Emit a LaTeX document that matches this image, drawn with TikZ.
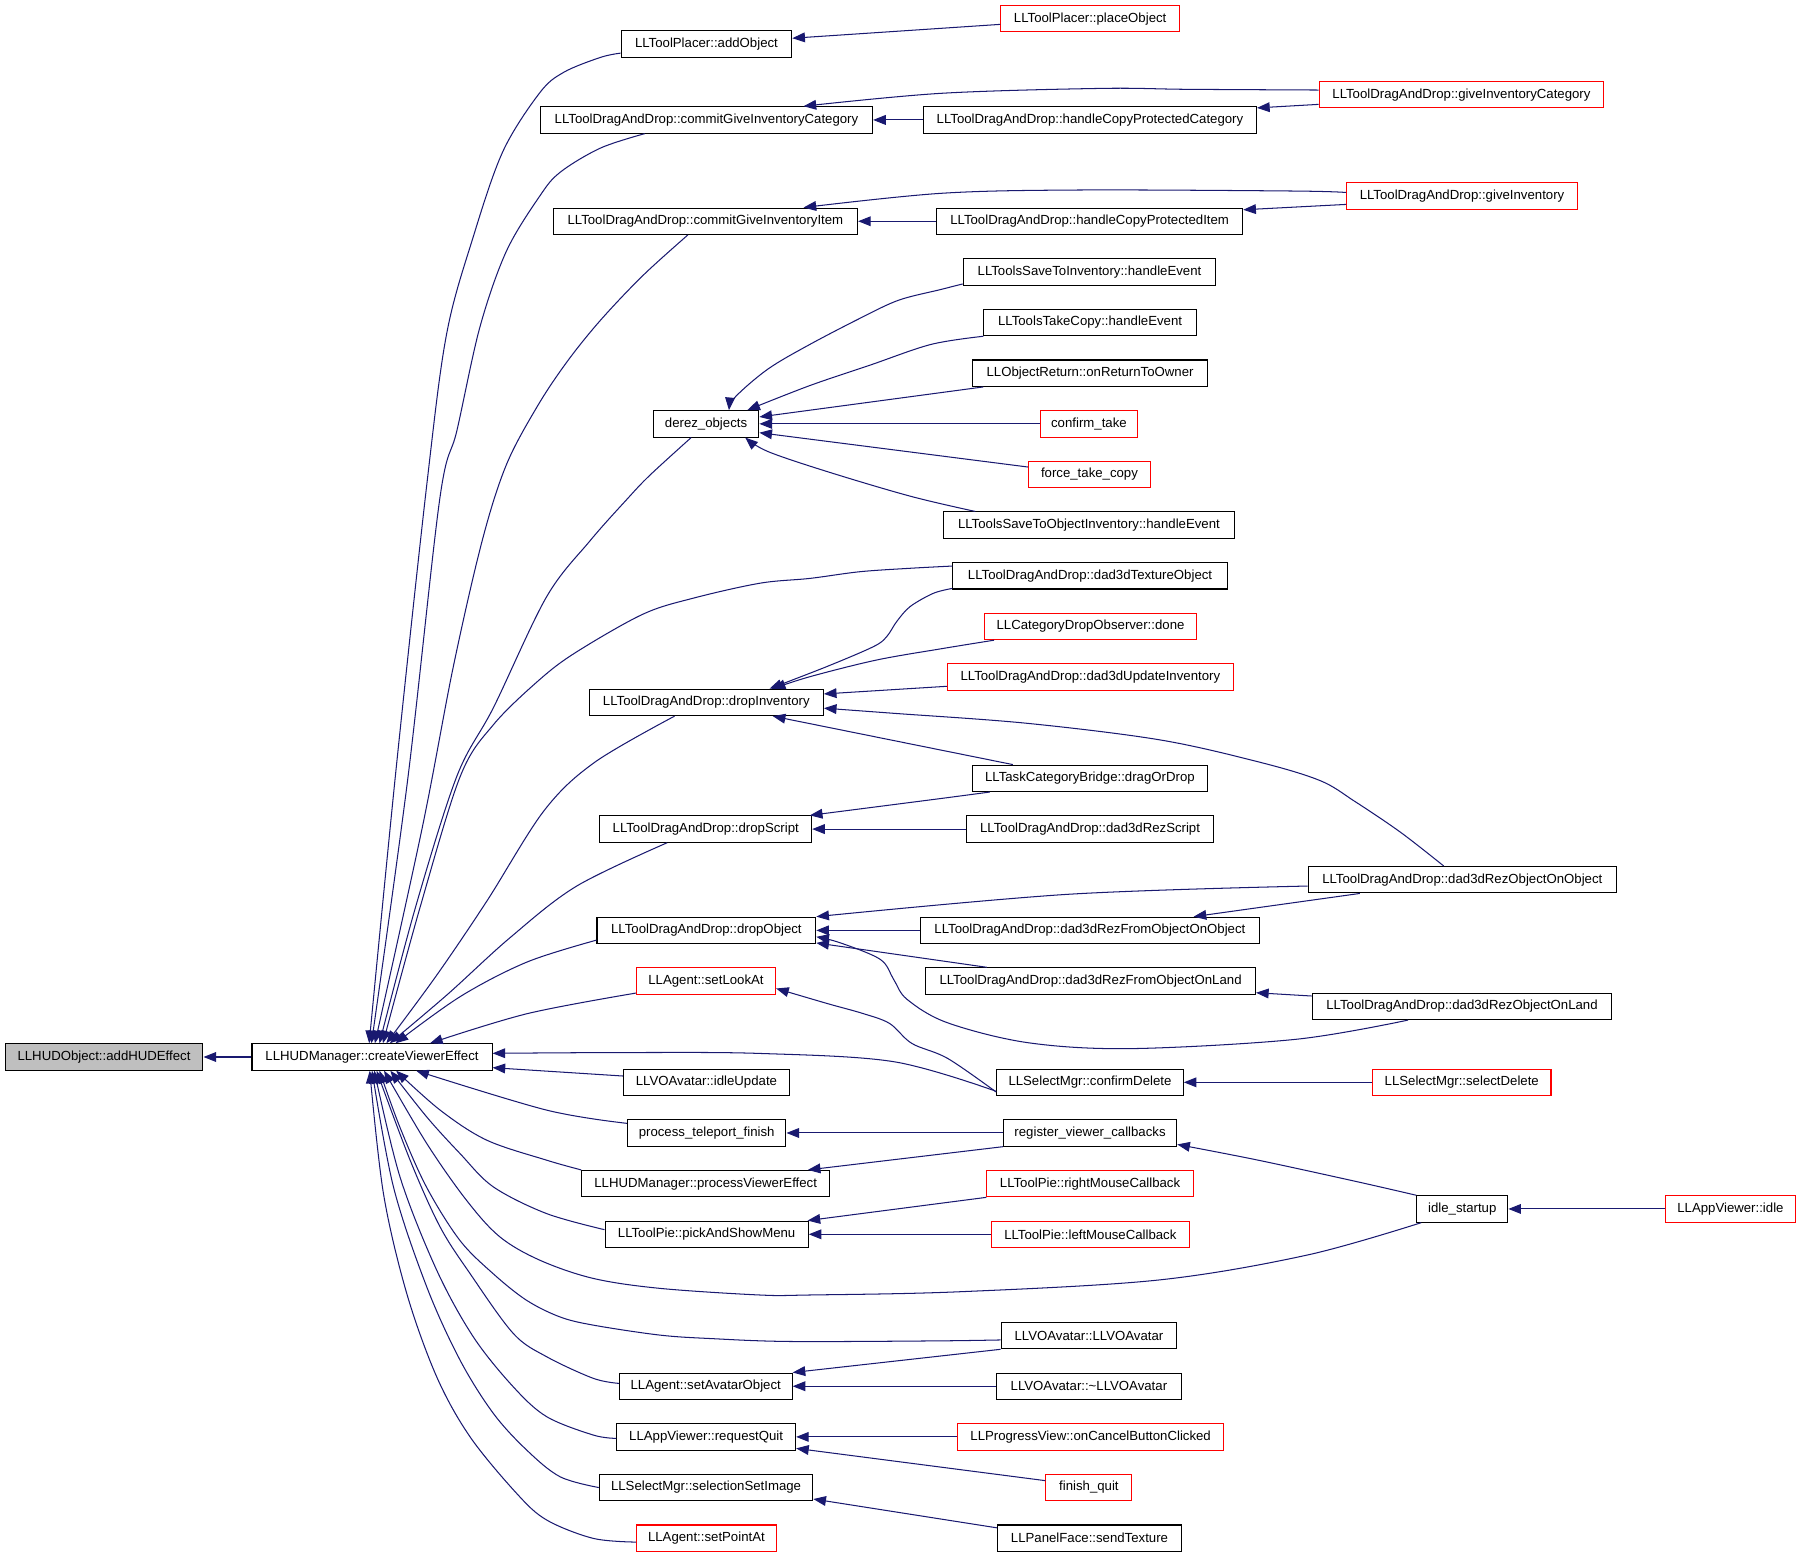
\documentclass[tikz,border=0pt]{standalone}
\usepackage{fontspec}
\setmainfont{Liberation Sans}
\usetikzlibrary{arrows.meta}
\definecolor{edgeblue}{RGB}{25,25,112}
\definecolor{hudgray}{RGB}{191,191,191}
\begin{document}
\begin{tikzpicture}[x=1pt,y=-1pt,
  box/.style={draw=black, line width=0.9pt, inner sep=0pt, minimum height=23pt, font=\fontsize{11.5}{13}\selectfont, text=black},
  redbox/.style={box, draw=red},
  edge/.style={draw=edgeblue, line width=0.9pt, -{Triangle[length=11pt,width=8.5pt]}},
  sm/.style={smooth, tension=0.55}]
\useasboundingbox (0,0) rectangle (1567.9,1356.3);

% ---------------- nodes ----------------
\node[box, fill=hudgray, minimum width=172.4pt] (addHUD) at (90.6,920.7) {LLHUDObject::addHUDEffect};
\node[box, minimum width=209.1pt] (cve) at (324.05,920.7) {LLHUDManager::createViewerEffect};

\node[box, minimum width=148.7pt] (addObject) at (615.35,38.3) {LLToolPlacer::addObject};
\node[redbox, minimum width=155.8pt] (placeObject) at (949.6,16.24) {LLToolPlacer::placeObject};
\node[box, minimum width=289.4pt] (commitCat) at (615.4,104.48) {LLToolDragAndDrop::commitGiveInventoryCategory};
\node[box, minimum width=290.1pt] (handleCat) at (949.45,104.48) {LLToolDragAndDrop::handleCopyProtectedCategory};
\node[redbox, minimum width=248pt] (giveCat) at (1273,82.42) {LLToolDragAndDrop::giveInventoryCategory};
\node[box, minimum width=265.1pt] (commitItem) at (614.45,192.72) {LLToolDragAndDrop::commitGiveInventoryItem};
\node[box, minimum width=266.7pt] (handleItem) at (949.15,192.72) {LLToolDragAndDrop::handleCopyProtectedItem};
\node[redbox, minimum width=201pt] (giveInv) at (1273.5,170.66) {LLToolDragAndDrop::giveInventory};
\node[box, minimum width=220pt] (saveInv) at (949,236.84) {LLToolsSaveToInventory::handleEvent};
\node[box, minimum width=185pt] (takeCopy) at (949.5,280.96) {LLToolsTakeCopy::handleEvent};
\node[box, minimum width=205pt] (returnOwner) at (949.5,325.08) {LLObjectReturn::onReturnToOwner};
\node[box, minimum width=92pt] (derez) at (615,369.2) {derez\_objects};
\node[redbox, minimum width=85pt] (confirmTake) at (948.5,369.2) {confirm\_take};
\node[redbox, minimum width=106pt] (forceTake) at (949,413.32) {force\_take\_copy};
\node[box, minimum width=253pt] (saveObjInv) at (948.5,457.44) {LLToolsSaveToObjectInventory::handleEvent};
\node[box, minimum width=239pt] (texObj) at (949.5,501.56) {LLToolDragAndDrop::dad3dTextureObject};
\node[redbox, minimum width=185pt] (catDrop) at (949.9,545.68) {LLCategoryDropObserver::done};
\node[redbox, minimum width=249.1pt] (updInv) at (949.75,589.8) {LLToolDragAndDrop::dad3dUpdateInventory};
\node[box, minimum width=203.9pt] (dropInv) at (615.25,611.86) {LLToolDragAndDrop::dropInventory};
\node[box, minimum width=205.3pt] (dragOrDrop) at (949.35,677.94) {LLTaskCategoryBridge::dragOrDrop};
\node[box, minimum width=184.5pt] (dropScript) at (614.75,722.16) {LLToolDragAndDrop::dropScript};
\node[box, minimum width=215pt] (rezScript) at (949.5,722.16) {LLToolDragAndDrop::dad3dRezScript};
\node[box, minimum width=268.5pt] (rezObjOnObj) at (1273.75,766.28) {LLToolDragAndDrop::dad3dRezObjectOnObject};
\node[box, minimum width=190.6pt] (dropObject) at (615.3,810.4) {LLToolDragAndDrop::dropObject};
\node[box, minimum width=294.7pt] (rezFromObjOnObj) at (949.35,810.4) {LLToolDragAndDrop::dad3dRezFromObjectOnObject};
\node[redbox, minimum width=121.3pt] (setLookAt) at (614.95,854.52) {LLAgent::setLookAt};
\node[box, minimum width=287.3pt] (rezFromObjOnLand) at (949.95,854.52) {LLToolDragAndDrop::dad3dRezFromObjectOnLand};
\node[box, minimum width=261pt] (rezObjOnLand) at (1273.5,876.58) {LLToolDragAndDrop::dad3dRezObjectOnLand};
\node[box, minimum width=144.7pt] (idleUpdate) at (615.35,942.76) {LLVOAvatar::idleUpdate};
\node[box, minimum width=162.6pt] (confirmDelete) at (949.4,942.76) {LLSelectMgr::confirmDelete};
\node[redbox, minimum width=155.5pt] (selectDelete) at (1273.25,942.76) {LLSelectMgr::selectDelete};
\node[box, minimum width=138.1pt] (teleport) at (615.55,986.88) {process\_teleport\_finish};
\node[box, minimum width=151pt] (regCallbacks) at (949.5,986.88) {register\_viewer\_callbacks};
\node[box, minimum width=216pt] (procVE) at (614.7,1031) {LLHUDManager::processViewerEffect};
\node[redbox, minimum width=179.8pt] (rightMouse) at (949.5,1031) {LLToolPie::rightMouseCallback};
\node[box, minimum width=79.4pt] (idleStartup) at (1273.7,1053.06) {idle\_startup};
\node[redbox, minimum width=112.6pt] (appIdle) at (1507.3,1053.06) {LLAppViewer::idle};
\node[box, minimum width=177pt] (pickMenu) at (615.5,1075.12) {LLToolPie::pickAndShowMenu};
\node[redbox, minimum width=172.5pt] (leftMouse) at (949.75,1075.12) {LLToolPie::leftMouseCallback};
\node[box, minimum width=153pt] (voAvatar) at (948.5,1163.36) {LLVOAvatar::LLVOAvatar};
\node[box, minimum width=150.5pt] (setAvatar) at (614.75,1207.48) {LLAgent::setAvatarObject};
\node[box, minimum width=161pt] (dtor) at (948.5,1207.48) {LLVOAvatar::\textasciitilde LLVOAvatar};
\node[box, minimum width=155.8pt] (reqQuit) at (615.1,1251.6) {LLAppViewer::requestQuit};
\node[redbox, minimum width=232pt] (cancelBtn) at (950,1251.6) {LLProgressView::onCancelButtonClicked};
\node[box, minimum width=186pt] (selImage) at (615,1295.72) {LLSelectMgr::selectionSetImage};
\node[redbox, minimum width=75pt] (finishQuit) at (948.5,1295.72) {finish\_quit};
\node[redbox, minimum width=121.4pt] (setPointAt) at (615.3,1339.84) {LLAgent::setPointAt};
\node[box, minimum width=160pt] (sendTexture) at (949,1339.84) {LLPanelFace::sendTexture};

% ---------------- edges ----------------
\draw[edge] (cve.west) -- (addHUD.east);

% top fan into createViewerEffect
\draw[edge] plot[sm] coordinates {([yshift=-8pt]addObject.west) (523,50) (491,63) (470,81) (438,132) (412,207) (389,291) (372,420) (345,670) ([xshift=102.5pt]cve.north west)};
\draw[edge] plot[sm] coordinates {([xshift=91.3pt]commitCat.south west) (523,129) (488,150) (470,171) (441,219) (418,285) (398,375) (383,435) (355,680) ([xshift=104.5pt]cve.north west)};
\draw[edge] plot[sm] coordinates {([xshift=117.7pt]commitItem.south west) (560,240) (523,279) (494,315) (468,354) (441,405) (420,471) (395,580) (368,720) ([xshift=107.5pt]cve.north west)};
\draw[edge] plot[sm] coordinates {([xshift=33.5pt]derez.south west) (566,414) (546,435) (514,471) (476,520) (430,616) (398,676) (362,790) ([xshift=111.5pt]cve.north west)};
\draw[edge] plot[sm] coordinates {([yshift=8.5pt]texObj.west) (792.7,495) (749,498) (705.6,503.8) (662,508) (604,521) (560,535) (502,568) (470,592) (430,631) (401,676) (366,790) ([xshift=114.5pt]cve.north west)};
\draw[edge] plot[sm] coordinates {([xshift=74.7pt]dropInv.south west) (518,664) (474,706) (424,785) (380,850) ([xshift=117.5pt]cve.north west)};
\draw[edge] plot[sm] coordinates {([xshift=59pt]dropScript.south west) (502,772) (444,817) (390,866) ([xshift=120.5pt]cve.north west)};
\draw[edge] plot[sm] coordinates {([yshift=-8.5pt]dropObject.west) (459,838) (401,868) ([xshift=125.5pt]cve.north west)};
\draw[edge] plot[sm] coordinates {([yshift=-10.5pt]setLookAt.west) (459,883) ([xshift=155.5pt]cve.north west)};

% right side into createViewerEffect
\draw[edge] plot[sm] coordinates {([yshift=-7.8pt]confirmDelete.west) (778.6,924.8) (662,917.6) (550,916.8) ([yshift=3.2pt]cve.east)};
\draw[edge] ([yshift=5.5pt]idleUpdate.west) -- ([yshift=-9.3pt]cve.east);

% bottom fan into createViewerEffect
\draw[edge] plot[sm] coordinates {([yshift=8.4pt]teleport.west) (475.9,966.9) ([xshift=143.5pt]cve.south west)};
\draw[edge] plot[sm] coordinates {(procVE.north west) (475.9,1010.5) (423.9,993.1) (383.3,966.9) ([xshift=126pt]cve.south west)};
\draw[edge] plot[sm] coordinates {([yshift=4pt]pickMenu.west) (475.9,1057) (429.7,1033.8) (400.7,1004.8) (371.7,972.9) ([xshift=121pt]cve.south west)};
\draw[edge] plot[sm] coordinates {([xshift=4.4pt]idleStartup.south west) (1138.7,1093.2) (1008.7,1115) (835.4,1125.2) (705.4,1128) (661.6,1128) (574.5,1122.2) (516.5,1113.5) (470,1097.6) (435.2,1077.2) (406.2,1045.3) (371.7,996) ([xshift=115.5pt]cve.south west)};
\draw[edge] plot[sm] coordinates {([yshift=-3.8pt]voAvatar.west) (813.7,1168) (688,1168.5) (620,1166) (574.5,1162.9) (516.5,1154.2) (487.5,1147) (458.5,1132.5) (429.4,1109.3) (400.4,1080.2) (371.4,1033.8) (348.2,981.5) ([xshift=111.5pt]cve.south west)};
\draw[edge] plot[sm] coordinates {([yshift=2.5pt]setAvatar.west) (516.8,1200.6) (476.2,1181.8) (447.1,1161.5) (409.4,1109.3) (383.3,1068.6) (357.2,1010.5) ([xshift=109pt]cve.south west)};
\draw[edge] plot[sm] coordinates {([yshift=-1.3pt]reqQuit.west) (516.8,1250) (476.2,1234) (447.1,1208) (412.3,1164.5) (380.4,1106.4) (348.4,1025.1) ([xshift=107pt]cve.south west)};
\draw[edge] plot[sm] coordinates {(selImage.west) (487.8,1286.3) (458.8,1263.1) (429.7,1231.1) (400.7,1184.7) (371.7,1120.9) (342.7,1033.8) ([xshift=105pt]cve.south west)};
\draw[edge] plot[sm] coordinates {([yshift=-3.4pt]setPointAt.west) (516.8,1340) (476.2,1324) (450,1300.8) (409.4,1251.5) (380.4,1199.3) (354.3,1126.7) (334,1039.6) ([xshift=103pt]cve.south west)};

% addObject / commit* clusters
\draw[edge] ([yshift=-5pt]placeObject.west) -- ([yshift=5pt]addObject.east);
\draw[edge] plot[sm] coordinates {([yshift=4pt]giveCat.west) (1034,77.8) (959.5,77) (819.5,81.3) ([xshift=229.7pt]commitCat.north west)};
\draw[edge] ([yshift=-8.5pt]giveCat.west) -- ([yshift=10.5pt]handleCat.east);
\draw[edge] (handleCat.west) -- (commitCat.east);
\draw[edge] plot[sm] coordinates {([yshift=3pt]giveInv.west) (1127,166.4) (940.6,165.5) (819.5,168.4) ([xshift=218.5pt]commitItem.north west)};
\draw[edge] ([yshift=-7.4pt]giveInv.west) -- ([yshift=10pt]handleItem.east);
\draw[edge] (handleItem.west) -- (commitItem.east);

% derez_objects cluster
\draw[edge] plot[sm] coordinates {([yshift=-10.5pt]saveInv.west) (818.5,252.4) (783,261.4) (751,276.3) (704.7,300.4) (669,321.4) (640.7,345.5) ([xshift=66.4pt]derez.north west)};
\draw[edge] plot[sm] coordinates {(takeCopy.south west) (811,300) (758,318) (705,336) ([xshift=82.4pt]derez.north west)};
\draw[edge] ([xshift=10pt]returnOwner.south west) -- ([yshift=6pt]derez.east);
\draw[edge] (confirmTake.west) -- (derez.east);
\draw[edge] ([yshift=6.5pt]forceTake.west) -- ([yshift=-7.7pt]derez.east);
\draw[edge] plot[sm] coordinates {([xshift=28pt]saveObjInv.north west) (793.6,432.4) (722.5,411.4) (669.1,393.4) ([xshift=80.6pt]derez.south west)};

% dropInventory cluster
\draw[edge] plot[sm] coordinates {([yshift=-11pt]texObj.west) (813,516.8) (792.7,528.4) (781,541.5) (772.3,554.6) (760.7,563.3) (720,580.7) ([xshift=157.4pt]dropInv.north west)};
\draw[edge] plot[sm] coordinates {([xshift=9pt]catDrop.south west) (821.7,564.8) (763.6,574.9) (705.6,589.4) ([xshift=160.3pt]dropInv.north west)};
\draw[edge] ([yshift=-8pt]updInv.west) -- ([yshift=7.4pt]dropInv.east);
\draw[edge] plot[sm] coordinates {([xshift=118.5pt]rezObjOnObj.north west) (1220,725) (1180,698) (1150,680) (1097.6,664) (1010.5,644.5) (894.3,630) (778.1,621.3) ([yshift=-5pt]dropInv.east)};
\draw[edge] ([xshift=36pt]dragOrDrop.north west) -- ([xshift=160.3pt]dropInv.south west);

% dropScript cluster
\draw[edge] plot[sm] coordinates {([xshift=16pt]dragOrDrop.south west) (816,696) ([xshift=-2pt]dropScript.north east)};
\draw[edge] (rezScript.west) -- (dropScript.east);

% dropObject cluster
\draw[edge] plot[sm] coordinates {([yshift=-5.5pt]rezObjOnObj.west) (930,779) (dropObject.north east)};
\draw[edge] ([xshift=45.5pt]rezObjOnObj.south west) -- ([xshift=-57.4pt]rezFromObjOnObj.north east);
\draw[edge] (rezFromObjOnObj.west) -- (dropObject.east);
\draw[edge] ([xshift=53.7pt]rezFromObjOnLand.north west) -- ([yshift=1pt]dropObject.south east);
\draw[edge] plot[sm] coordinates {([xshift=84pt]rezObjOnLand.south west) (1128.7,905.3) (984.6,913.4) (895.1,908.2) (825.1,890.8) (790.1,870.5) (778.4,853.1) (766.8,835.7) (731.8,821.2) ([yshift=-5.6pt]dropObject.east)};
\draw[edge] ([yshift=9pt]rezObjOnLand.west) -- ([yshift=-10.2pt]rezFromObjOnLand.east);

% setLookAt / confirmDelete
\draw[edge] plot[sm] coordinates {([yshift=-8.4pt]confirmDelete.west) (825.4,921.9) (794.3,908.9) (774.9,891.5) (751.6,882.8) (720.5,874.1) ([yshift=-6.5pt]setLookAt.east)};
\draw[edge] (selectDelete.west) -- (confirmDelete.east);

% register_viewer_callbacks, idle_startup
\draw[edge] (regCallbacks.west) -- (teleport.east);
\draw[edge] (regCallbacks.south west) -- ([xshift=-19.5pt]procVE.north east);
\draw[edge] plot[sm] coordinates {(idleStartup.north west) (1182,1029.3) (1095.6,1010.5) ([yshift=-10pt]regCallbacks.east)};
\draw[edge] (appIdle.west) -- (idleStartup.east);

% pickAndShowMenu
\draw[edge] (rightMouse.south west) -- ([xshift=-1pt]pickMenu.north east);
\draw[edge] (leftMouse.west) -- (pickMenu.east);

% setAvatarObject
\draw[edge] (voAvatar.south west) -- (setAvatar.north east);
\draw[edge] (dtor.west) -- (setAvatar.east);

% requestQuit
\draw[edge] (cancelBtn.west) -- (reqQuit.east);
\draw[edge] ([yshift=6pt]finishQuit.west) -- ([yshift=-10pt]reqQuit.east);

% selectionSetImage
\draw[edge] ([yshift=9pt]sendTexture.west) -- ([yshift=-10pt]selImage.east);
\end{tikzpicture}
\end{document}
